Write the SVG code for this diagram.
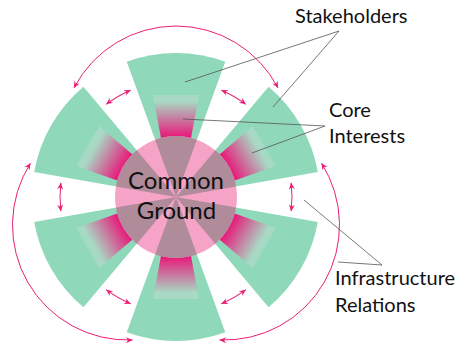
<svg xmlns="http://www.w3.org/2000/svg" width="461" height="344" viewBox="0 0 461 344">
<style>
.sector{fill:#8fd8b9}
.core{fill:url(#coreGrad)}
.overlap{fill:#b08b99}
.ground{fill:#f5a4c7}
.arr{fill:none;stroke:#e91e74;stroke-width:1;marker-start:url(#ah);marker-end:url(#ah)}
.lead{stroke:#555;stroke-width:0.8;fill:none}
.lbl{font-family:Lato,"Liberation Sans",sans-serif;font-size:20px;fill:#111}
.big{font-family:Lato,"Liberation Sans",sans-serif;font-size:24px;fill:#111;text-anchor:middle}
</style>
<defs>
<linearGradient id="coreGrad" gradientUnits="userSpaceOnUse" x1="60" y1="0" x2="102" y2="0">
<stop offset="0" stop-color="#e8197a"/>
<stop offset="0.85" stop-color="#a8d9c4"/>
<stop offset="1" stop-color="#a6dac4"/>
</linearGradient>
<path id="sec" d="M0,0 L135.3,-49.25 A144,144 0 0 1 135.3,49.25 Z"/>
<path id="cor" d="M48,-13 L102,-23 L102,23 L48,13 Z"/>
<path id="ovl" d="M0,0 L57.3,-20.86 A61,61 0 0 1 57.3,20.86 Z"/>
<path id="sarr" d="M115.13,-14.14 A116,116 0 0 1 115.13,14.14"/>
<marker id="ah" viewBox="-7 -4 8 8" markerWidth="8" markerHeight="8" refX="0" refY="0" orient="auto-start-reverse" markerUnits="userSpaceOnUse">
<path d="M0,0 L-6.5,-3 L-4.5,0 L-6.5,3 Z" fill="#e91e74"/>
</marker>
</defs>
<g id="stakeholders">
<use href="#sec" class="sector" transform="translate(176,197) rotate(-90)"/>
<use href="#sec" class="sector" transform="translate(176,197) rotate(-30)"/>
<use href="#sec" class="sector" transform="translate(176,197) rotate(30)"/>
<use href="#sec" class="sector" transform="translate(176,197) rotate(90)"/>
<use href="#sec" class="sector" transform="translate(176,197) rotate(150)"/>
<use href="#sec" class="sector" transform="translate(176,197) rotate(210)"/>
</g>
<g id="core-interests">
<use href="#cor" class="core" transform="translate(176,197) rotate(-90)"/>
<use href="#cor" class="core" transform="translate(176,197) rotate(-30)"/>
<use href="#cor" class="core" transform="translate(176,197) rotate(30)"/>
<use href="#cor" class="core" transform="translate(176,197) rotate(90)"/>
<use href="#cor" class="core" transform="translate(176,197) rotate(150)"/>
<use href="#cor" class="core" transform="translate(176,197) rotate(210)"/>
</g>
<g id="common-ground">
<circle cx="176" cy="197" r="61" class="ground"/>
<use href="#ovl" class="overlap" transform="translate(176,197) rotate(-90)"/>
<use href="#ovl" class="overlap" transform="translate(176,197) rotate(-30)"/>
<use href="#ovl" class="overlap" transform="translate(176,197) rotate(30)"/>
<use href="#ovl" class="overlap" transform="translate(176,197) rotate(90)"/>
<use href="#ovl" class="overlap" transform="translate(176,197) rotate(150)"/>
<use href="#ovl" class="overlap" transform="translate(176,197) rotate(210)"/>
<text class="big" x="176" y="189">Common</text>
<text class="big" x="176.5" y="219">Ground</text>
</g>
<g id="connectors">
<path class="arr" d="M74,87.9 A115,115 0 0 1 278,87.9"/>
<path class="arr" d="M321.5,163.2 A115,115 0 0 1 219.5,339.9"/>
<path class="arr" d="M132.5,339.9 A115,115 0 0 1 30.5,163.2"/>
<use href="#sarr" class="arr" transform="translate(176,197) rotate(-120)"/>
<use href="#sarr" class="arr" transform="translate(176,197) rotate(-60)"/>
<use href="#sarr" class="arr" transform="translate(176,197) rotate(0)"/>
<use href="#sarr" class="arr" transform="translate(176,197) rotate(60)"/>
<use href="#sarr" class="arr" transform="translate(176,197) rotate(120)"/>
<use href="#sarr" class="arr" transform="translate(176,197) rotate(180)"/>
<path class="lead" d="M185,82 L339,31 L273,107"/>
<path class="lead" d="M183,119 L325,126 L252,153"/>
<path class="lead" d="M304,200 L382,265 L338,262"/>
</g>
<g id="labels">
<text class="lbl" x="295" y="23">Stakeholders</text>
<text class="lbl" x="329" y="117">Core</text>
<text class="lbl" x="329" y="143">Interests</text>
<text class="lbl" x="335" y="285">Infrastructure</text>
<text class="lbl" x="335" y="312">Relations</text>
</g>
</svg>
